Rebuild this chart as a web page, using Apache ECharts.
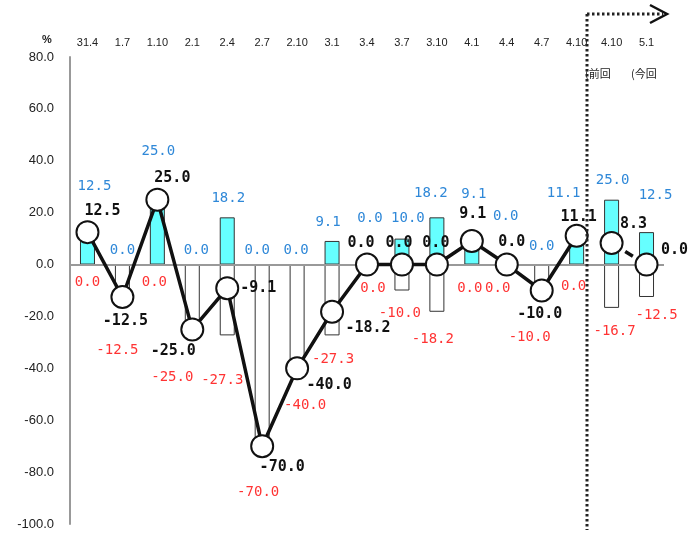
<!DOCTYPE html>
<html>
<head>
<meta charset="utf-8">
<script src="https://cdn.jsdelivr.net/npm/echarts@6/dist/echarts.min.js"></script>
<style>
html, body { margin: 0; padding: 0; background: #fff; }
#chart { width: 690px; height: 538px; }
</style>
</head>
<body>
<div id="chart"></div>
<script>
// 調査時期（上部目盛）
var periods = ['31.4', '1.7', '1.10', '2.1', '2.4', '2.7', '2.10', '3.1', '3.4', '3.7', '3.10', '4.1', '4.4', '4.7', '4.10', '4.10', '5.1'];
// 「上昇」回答割合（水色の棒）
var upShare = [12.5, 0.0, 25.0, 0.0, 18.2, 0.0, 0.0, 9.1, 0.0, 10.0, 18.2, 9.1, 0.0, 0.0, 11.1, 25.0, 12.5];
// 「下降」回答割合（白抜きの棒）
var downShare = [0.0, -12.5, 0.0, -25.0, -27.3, -70.0, -40.0, -27.3, 0.0, -10.0, -18.2, 0.0, 0.0, -10.0, 0.0, -16.7, -12.5];
// DI（実線：実績、破線：前回・今回）
var diActual = [12.5, -12.5, 25.0, -25.0, -9.1, -70.0, -40.0, -18.2, 0.0, 0.0, 0.0, 9.1, 0.0, -10.0, 11.1, null, null];
var diForecast = [null, null, null, null, null, null, null, null, null, null, null, null, null, null, null, 8.3, 0.0];

// ラベルの位置ずらし（px）
var upLabelShift = [[7, -46], [0, -14], [1, -48], [4, -14], [1, -19], [-5, -14], [-1, -14], [-4, -19], [3, -46], [6, -20], [-6, -24], [2, -47], [-1, -48], [0, -18], [-13, -42], [1, -19], [9, -37]];
var downLabelShift = [[0, 17], [-5, 53], [-3, 17], [-20, 48], [-5, 45], [-4, 46], [8, 37], [1, 24], [6, 23], [-2, 23], [-4, 28], [-2, 23], [-9, 23], [-12, 47], [-3, 21], [3, 23], [10, 18]];
var diLabelShift = [[15, -21], [3, 24], [15, -22], [-19, 22], [31, 0], [20, 21], [32, 17], [36, 16], [-6, -21], [-3, -21], [-1, -21], [1, -27], [5, -22], [-2, 24], [2, -19], [22, -19], [28, -14]];

var monoFont = '"DejaVu Sans Mono", monospace';
var fmt1 = function(p) { return Number(p.value).toFixed(1); };

function withShift(values, shifts) {
    return values.map(function(v, i) {
        if (v === null) {
            return v;
        }
        return { value: v, label: { offset: shifts[i] } };
    });
}

var chart = echarts.init(document.getElementById('chart'), null, { renderer: 'canvas' });

var option = {
    animation: false,
    backgroundColor: '#fff',
    grid: { left: 70, right: 26, top: 57, bottom: 14, containLabel: false },
    xAxis: {
        type: 'category',
        position: 'top',
        data: periods,
        boundaryGap: true,
        axisLine: { show: false },
        axisTick: { show: false },
        splitLine: { show: false },
        axisLabel: {
            interval: 0,
            margin: 9,
            fontSize: 11,
            color: '#222',
            fontFamily: '"Liberation Sans", Arial, sans-serif'
        }
    },
    yAxis: {
        type: 'value',
        min: -100,
        max: 80,
        interval: 20,
        axisLine: { show: true, lineStyle: { color: '#999', width: 2 } },
        axisTick: { show: false },
        splitLine: { show: false },
        axisLabel: {
            margin: 16,
            fontSize: 13,
            color: '#222',
            fontFamily: '"Liberation Sans", Arial, sans-serif',
            formatter: function(v) { return v.toFixed(1); }
        }
    },
    series: [
        {
            name: 'down',
            type: 'bar',
            barWidth: 15,
            barGap: '-100%',
            z: 2,
            data: withShift(downShare, downLabelShift),
            itemStyle: { color: '#fff', borderColor: '#333', borderWidth: 1 },
            label: {
                show: true,
                position: 'bottom',
                distance: 0,
                align: 'center',
                verticalAlign: 'middle',
                color: '#ff3333',
                fontSize: 14,
                fontFamily: monoFont,
                formatter: fmt1
            },
            markLine: {
                silent: true,
                symbol: 'none',
                label: { show: false },
                lineStyle: { color: '#999', width: 2, type: 'solid' },
                data: [{ yAxis: 0 }]
            }
        },
        {
            name: 'up',
            type: 'bar',
            barWidth: 15,
            barGap: '-100%',
            z: 2,
            data: withShift(upShare, upLabelShift),
            itemStyle: { color: '#66ffff', borderColor: '#333', borderWidth: 1 },
            label: {
                show: true,
                position: 'top',
                distance: 0,
                align: 'center',
                verticalAlign: 'middle',
                color: '#2f88d8',
                fontSize: 14,
                fontFamily: monoFont,
                formatter: fmt1
            }
        },
        {
            name: 'DI',
            type: 'line',
            z: 5,
            data: withShift(diActual, diLabelShift),
            connectNulls: false,
            symbol: 'circle',
            symbolSize: 22,
            lineStyle: { color: '#111', width: 3.5 },
            itemStyle: { color: '#fff', borderColor: '#111', borderWidth: 2 },
            label: {
                show: true,
                position: 'inside',
                color: '#111',
                fontSize: 15,
                fontWeight: 'bold',
                fontFamily: monoFont,
                formatter: fmt1
            }
        },
        {
            name: 'DI forecast',
            type: 'line',
            z: 5,
            data: withShift(diForecast, diLabelShift),
            connectNulls: false,
            symbol: 'circle',
            symbolSize: 22,
            lineStyle: { color: '#111', width: 3.5, type: [9, 7] },
            itemStyle: { color: '#fff', borderColor: '#111', borderWidth: 2 },
            label: {
                show: true,
                position: 'inside',
                color: '#111',
                fontSize: 15,
                fontWeight: 'bold',
                fontFamily: monoFont,
                formatter: fmt1
            }
        }
    ]
};

chart.setOption(option);

// 前回・今回の区切り線と注記
var p14 = chart.convertToPixel({ gridIndex: 0 }, [14, 0]);
var p15 = chart.convertToPixel({ gridIndex: 0 }, [15, 0]);
var divX = Math.round(p14[0] + (p15[0] - p14[0]) * 0.3);
var yTop = chart.convertToPixel({ yAxisIndex: 0 }, 80) - 43;
var yBottom = chart.convertToPixel({ yAxisIndex: 0 }, -100) + 6;
var dotStyle = { stroke: '#222', lineWidth: 3, lineDash: [2.5, 2.5], fill: null };
var noteFont = '"Noto Sans CJK JP", sans-serif';

chart.setOption({
    graphic: [
        { type: 'line', z: 10, shape: { x1: divX, y1: yTop, x2: divX, y2: yBottom }, style: dotStyle },
        { type: 'line', z: 10, shape: { x1: divX, y1: yTop, x2: divX + 76, y2: yTop }, style: dotStyle },
        {
            type: 'polyline', z: 10,
            shape: { points: [[divX + 63, yTop - 9], [divX + 80, yTop], [divX + 63, yTop + 9]] },
            style: { stroke: '#111', lineWidth: 2.5, fill: null }
        },
        {
            type: 'text', z: 9, left: divX - 2, top: yTop + 54,
            style: { text: '(前回', fontSize: 11, fill: '#222', fontFamily: noteFont }
        },
        {
            type: 'text', z: 9, left: divX + 44, top: yTop + 54,
            style: { text: '(今回', fontSize: 11, fill: '#222', fontFamily: noteFont }
        },
        {
            type: 'text', z: 10, left: 42, top: 34,
            style: { text: '%', fontSize: 11, fontWeight: 'bold', fill: '#222', fontFamily: '"Liberation Sans", Arial, sans-serif' }
        }
    ]
});
</script>
</body>
</html>
